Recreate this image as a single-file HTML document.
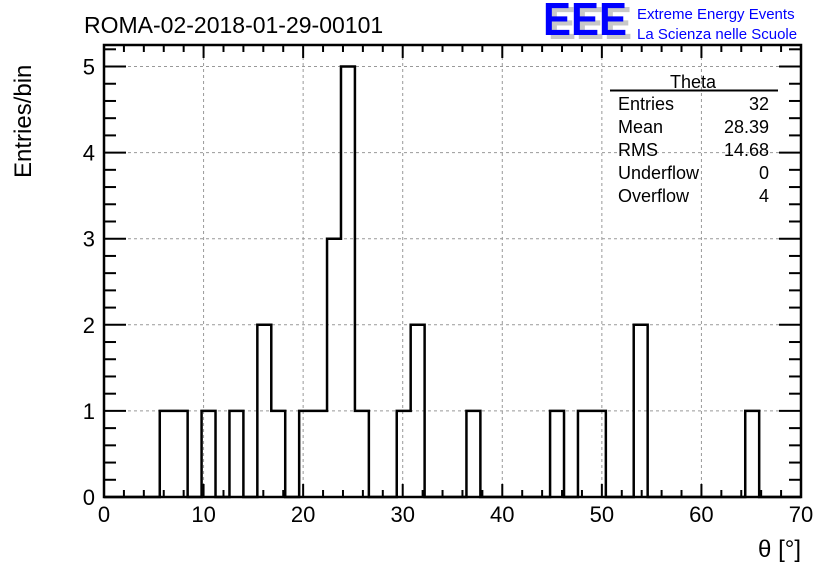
<!DOCTYPE html>
<html><head><meta charset="utf-8"><style>
body{margin:0;background:#fff}
svg{display:block;font-family:"Liberation Sans",Arial,sans-serif}
</style></head><body>
<svg id="chart" width="836" height="572" viewBox="0 0 836 572" xmlns="http://www.w3.org/2000/svg">
<rect width="836" height="572" fill="#fff"/>
<g id="grid"></g>
<g id="hist"></g>
<g id="axes"></g>
<text x="84" y="33" font-size="23">ROMA-02-2018-01-29-00101</text>
<g>
<text x="548" y="39" font-size="46" font-weight="bold" fill="#c8c8c8" textLength="84" lengthAdjust="spacingAndGlyphs">EEE</text>
<text x="543" y="35" font-size="46" font-weight="bold" fill="#0000ff" textLength="84" lengthAdjust="spacingAndGlyphs">EEE</text>
<text x="637" y="19" font-size="15" fill="#0000ff">Extreme Energy Events</text>
<text x="637" y="39" font-size="15" fill="#0000ff">La Scienza nelle Scuole</text>
</g>
<g font-size="18">
<text x="693" y="88" text-anchor="middle">Theta</text>
<line x1="610" y1="90.5" x2="778" y2="90.5" stroke="#000" stroke-width="2"/>
<text x="618" y="110">Entries</text><text x="769" y="110" text-anchor="end">32</text>
<text x="618" y="133">Mean</text><text x="769" y="133" text-anchor="end">28.39</text>
<text x="618" y="156">RMS</text><text x="769" y="156" text-anchor="end">14.68</text>
<text x="618" y="179">Underflow</text><text x="769" y="179" text-anchor="end">0</text>
<text x="618" y="202">Overflow</text><text x="769" y="202" text-anchor="end">4</text>
</g>
<text transform="translate(31,178) rotate(-90)" font-size="24">Entries/bin</text>
<text x="801" y="557" text-anchor="end" font-size="24">θ [°]</text>
</svg>
<script>
const binWidth = 1.4;
const binIndices = [4,5,7,9,11,12,14,15,16,17,18,21,22,26,32,34,35,38,46];
const binCounts  = [1,1,1,1,2,1,1,1,3,5,1,1,2,1,1,1,1,2,1];
const xTickLabels = ["0","10","20","30","40","50","60","70"];
const yTickLabels = ["0","1","2","3","4","5"];

const L=104,R=801,T=45,B=497, XMAX=70, YMAX=5.25;
const sx=v=>L+(v/XMAX)*(R-L);
const sy=v=>B-(v/YMAX)*(B-T);
const NS="http://www.w3.org/2000/svg";
function mk(tag,attrs,parent){const e=document.createElementNS(NS,tag);for(const k in attrs)e.setAttribute(k,attrs[k]);parent.appendChild(e);return e;}
const grid=document.getElementById('grid'),hist=document.getElementById('hist'),axes=document.getElementById('axes');

// grid
xTickLabels.forEach(t=>{const v=+t;if(v>0&&v<XMAX){const l=mk('line',{x1:sx(v),x2:sx(v),y1:T,y2:B,stroke:'#999','stroke-dasharray':'3,3'},grid);

}});
yTickLabels.forEach(t=>{const v=+t;if(v>0){const l=mk('line',{x1:L,x2:R,y1:sy(v),y2:sy(v),stroke:'#999','stroke-dasharray':'3,3'},grid);

}});

// histogram outline
const counts=new Array(Math.round(XMAX/binWidth)).fill(0);
binIndices.forEach((b,i)=>counts[b]=binCounts[i]);
let d=`M${sx(0)},${sy(0)}`;
counts.forEach((c,i)=>{d+=` L${sx(i*binWidth)},${sy(c)} L${sx((i+1)*binWidth)},${sy(c)}`;});
d+=` L${sx(XMAX)},${sy(0)}`;
const p=mk('path',{d:d,fill:'none',stroke:'#000','stroke-width':2.5},hist);



// frame
const fr=mk('rect',{x:L,y:T,width:R-L,height:B-T,fill:'none',stroke:'#000','stroke-width':2.5},axes);



// x ticks
for(let v=0;v<=XMAX;v+=2){const major=v%10===0,len=major?13:7;
mk('line',{x1:sx(v),x2:sx(v),y1:B,y2:B-len,stroke:'#000','stroke-width':2},axes);
mk('line',{x1:sx(v),x2:sx(v),y1:T,y2:T+len,stroke:'#000','stroke-width':2},axes);}
xTickLabels.forEach(t=>{const e=mk('text',{x:sx(+t),y:522,'text-anchor':'middle','font-size':22},axes);e.textContent=t;

});
// y ticks
for(let k=0;k<=26;k++){const v=k*0.2;if(v>YMAX)break;const major=k%5===0,len=major?22:12;
mk('line',{x1:L,x2:L+len,y1:sy(v),y2:sy(v),stroke:'#000','stroke-width':2},axes);
mk('line',{x1:R,x2:R-len,y1:sy(v),y2:sy(v),stroke:'#000','stroke-width':2},axes);}
yTickLabels.forEach(t=>{const e=mk('text',{x:95,y:sy(+t)+8,'text-anchor':'end','font-size':22},axes);e.textContent=t;

});
</script>
</body></html>
